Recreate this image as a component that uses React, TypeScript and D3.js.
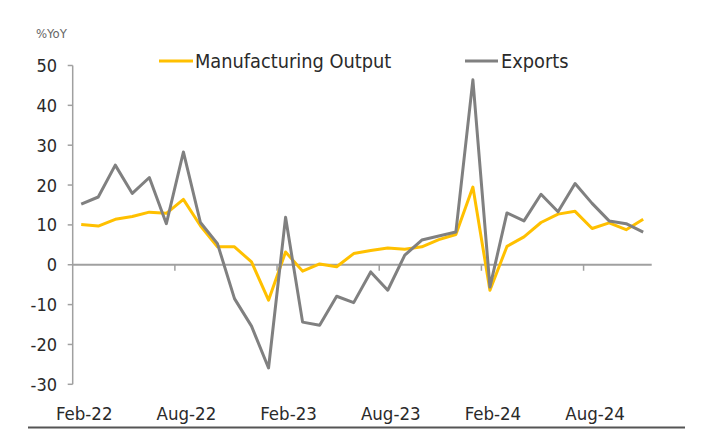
import React from "react";
import * as d3 from "d3";

const categories = [
  "Feb-22","Mar-22","Apr-22","May-22","Jun-22","Jul-22","Aug-22","Sep-22","Oct-22","Nov-22","Dec-22","Jan-23",
  "Feb-23","Mar-23","Apr-23","May-23","Jun-23","Jul-23","Aug-23","Sep-23","Oct-23","Nov-23","Dec-23","Jan-24",
  "Feb-24","Mar-24","Apr-24","May-24","Jun-24","Jul-24","Aug-24","Sep-24","Oct-24","Nov-24",
];
const manufacturing = [10.1, 9.7, 11.4, 12.1, 13.2, 12.9, 16.4, 9.8, 4.5, 4.5, 0.7, -8.9, 3.2, -1.6, 0.2, -0.5, 2.8, 3.6, 4.2, 3.9, 4.5, 6.3, 7.6, 19.5, -6.4, 4.6, 7.0, 10.6, 12.7, 13.4, 9.1, 10.5, 8.8, 11.4];
const exportsData = [15.2, 17.0, 25.0, 17.9, 21.9, 10.3, 28.3, 10.6, 5.3, -8.5, -15.4, -25.9, 11.9, -14.4, -15.2, -7.9, -9.5, -1.8, -6.4, 2.4, 6.2, 7.2, 8.2, 46.4, -5.6, 13.0, 11.0, 17.7, 13.3, 20.4, 15.4, 11.0, 10.3, 8.2];
const xTickLabels = ["Feb-22", "Aug-22", "Feb-23", "Aug-23", "Feb-24", "Aug-24"];
const yTicks = [50, 40, 30, 20, 10, 0, -10, -20, -30];
const seriesNames = ["Manufacturing Output", "Exports"];

const FONT = "'DejaVu Sans Condensed', 'DejaVu Sans', sans-serif";

export default function App() {
  const W = 709, H = 439;
  const x = d3.scaleBand<string>().domain(categories).range([72.7, 651.7]);
  const y = d3.scaleLinear().domain([-30, 50]).range([384.3, 65.5]);
  const cx = (c: string) => (x(c) as number) + x.bandwidth() / 2;
  const line = d3.line<number>().x((_, i) => cx(categories[i])).y((d) => y(d));
  const axisX = 72.7;
  const boundaryTicks = xTickLabels.slice(1).map((c) => x(c) as number);

  return (
    <svg width={W} height={H} style={{ position: "absolute", left: 0, top: 0, background: "#fff" }}>
      <text x={36} y={38} fontFamily={FONT} fontSize={13} fill="#666">%YoY</text>
      {/* y axis */}
      <line x1={axisX} x2={axisX} y1={y(50)} y2={y(-30)} stroke="#a0a0a0" strokeWidth={1.5} />
      {yTicks.map((t) => (
        <g key={t}>
          <line x1={axisX - 5} x2={axisX} y1={y(t)} y2={y(t)} stroke="#a0a0a0" strokeWidth={1.5} />
          <text x={57} y={y(t)} dy="0.36em" textAnchor="end" fontFamily={FONT} fontSize={18} fill="#2a2a2a">{t}</text>
        </g>
      ))}
      {/* zero line */}
      <line x1={axisX} x2={651.7} y1={y(0)} y2={y(0)} stroke="#a0a0a0" strokeWidth={2} />
      {boundaryTicks.map((bx, i) => (
        <line key={i} x1={bx} x2={bx} y1={y(0)} y2={y(0) + 6} stroke="#a0a0a0" strokeWidth={1.5} />
      ))}
      {/* x labels */}
      {xTickLabels.map((c) => (
        <text key={c} x={cx(c) + 3} y={420} textAnchor="middle" fontFamily={FONT} fontSize={18.5} fill="#2a2a2a">{c}</text>
      ))}
      {/* bottom rule */}
      <line x1={28} x2={685} y1={427.5} y2={427.5} stroke="#555" strokeWidth={2} />
      {/* series */}
      <path d={line(manufacturing) || ""} fill="none" stroke="#FFC000" strokeWidth={3} strokeLinejoin="round" />
      <path d={line(exportsData) || ""} fill="none" stroke="#808080" strokeWidth={3} strokeLinejoin="round" />
      {/* legend */}
      <line x1={159} x2={193} y1={61} y2={61} stroke="#FFC000" strokeWidth={3} />
      <text x={195} y={68} fontFamily={FONT} fontSize={19.8} fill="#2a2a2a">{seriesNames[0]}</text>
      <line x1={465} x2={498} y1={61} y2={61} stroke="#808080" strokeWidth={3} />
      <text x={501} y={68} fontFamily={FONT} fontSize={19.8} fill="#2a2a2a">{seriesNames[1]}</text>
    </svg>
  );
}
